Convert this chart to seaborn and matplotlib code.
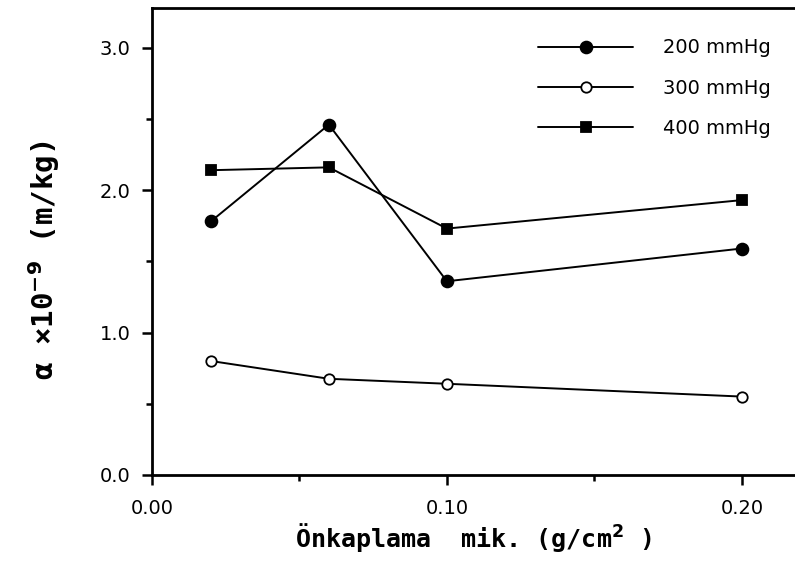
import matplotlib
matplotlib.use("Agg")
import matplotlib.pyplot as plt
from matplotlib.ticker import MultipleLocator
import seaborn as sns
import pandas as pd

# Pre-coat amount (g/cm^2) and specific cake resistance (x1e-9 m/kg)
precoat = [0.02, 0.06, 0.10, 0.20]
alpha_200 = [1.78, 2.46, 1.36, 1.59]
alpha_300 = [0.80, 0.675, 0.64, 0.55]
alpha_400 = [2.14, 2.16, 1.73, 1.93]
pressures = ["200 mmHg", "300 mmHg", "400 mmHg"]
xtick_vals = [0.00, 0.10, 0.20]
xtick_labels = ["0.00", "0.10", "0.20"]
ytick_vals = [0.0, 1.0, 2.0, 3.0]
ytick_labels = ["0.0", "1.0", "2.0", "3.0"]

df = pd.DataFrame({
    "x": precoat * 3,
    "alpha": alpha_200 + alpha_300 + alpha_400,
    "p": [pressures[0]] * 4 + [pressures[1]] * 4 + [pressures[2]] * 4,
})

sns.set_style("ticks")
plt.rcParams["font.family"] = ["DejaVu Sans"]
plt.rcParams["text.color"] = "black"
plt.rcParams["axes.labelcolor"] = "black"

fig = plt.figure(figsize=(7.95, 5.64), dpi=100)
ax = fig.add_axes([0.191, 0.158, 0.809, 0.828])

styles = {
    pressures[0]: dict(marker="o", mfc="black", ms=8.5),
    pressures[1]: dict(marker="o", mfc="white", ms=7.5),
    pressures[2]: dict(marker="s", mfc="black", ms=7.5),
}
for p in pressures:
    sub = df[df["p"] == p]
    sns.lineplot(data=sub, x="x", y="alpha", ax=ax, color="black", lw=1.4,
                 mec="black", mew=1.3, label=p, **styles[p])

ax.set_xlim(0.0, 0.218)
ax.set_ylim(0.0, 3.28)
ax.set_xticks(xtick_vals)
ax.set_xticklabels(xtick_labels)
ax.set_yticks(ytick_vals)
ax.set_yticklabels(ytick_labels)
ax.xaxis.set_minor_locator(MultipleLocator(0.05))
ax.yaxis.set_minor_locator(MultipleLocator(0.5))

ax.tick_params(axis="both", which="major", direction="out", length=7.5, width=1.8,
               labelsize=14, color="black", labelcolor="black")
ax.tick_params(axis="x", which="major", pad=10)
ax.tick_params(axis="y", which="major", pad=8)
ax.tick_params(axis="both", which="minor", direction="out", length=4, width=1.8,
               color="black")

for side in ["left", "bottom", "top"]:
    ax.spines[side].set_visible(True)
    ax.spines[side].set_linewidth(2.0)
    ax.spines[side].set_color("black")
ax.spines["right"].set_visible(False)

ax.set_xlabel("Önkaplama  mik. (g/cm$^{\\mathbf{2}}$ )", fontsize=18,
              fontweight="bold", family="DejaVu Sans Mono", labelpad=2)
ax.set_ylabel("α ×10$^{\\mathbf{-9}}$ (m/kg)", fontsize=21,
              fontweight="bold", family="DejaVu Sans Mono")
ax.yaxis.set_label_coords(-0.139, 0.46)

leg = ax.legend(loc="upper right", bbox_to_anchor=(0.99, 0.972), frameon=False,
                fontsize=14, handlelength=4.9, handletextpad=1.55,
                labelspacing=1.1, numpoints=1)
for t in leg.get_texts():
    t.set_color("black")

fig.savefig("out.png", dpi=100, facecolor="white")
